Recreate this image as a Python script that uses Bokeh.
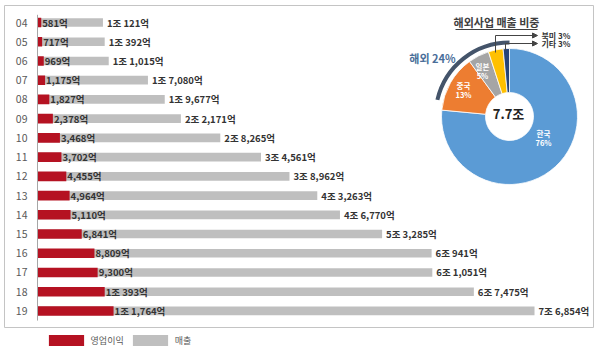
import math
from bokeh.plotting import figure
from bokeh.models import Range1d, Legend, LegendItem, Arrow, NormalHead, ColumnDataSource
from bokeh.core.properties import value
from bokeh.embed import file_html
from bokeh.resources import INLINE

W, H = 600, 354
FONT = "Noto Sans CJK KR"

# ---------------- data ----------------
years = ["04", "05", "06", "07", "08", "09", "10", "11", "12", "13", "14", "15", "16", "17", "18", "19"]
op_profit = [581, 717, 969, 1175, 1827, 2378, 3468, 3702, 4455, 4964, 5110, 6841, 8809, 9300, 10393, 11764]  # 억원
revenue = [10121, 10392, 11015, 17080, 19677, 22171, 28265, 34561, 38962, 43263, 46770, 53285, 60941, 61051, 67475, 76854]  # 억원
legend_labels = ["영업이익", "매출"]

pie_title = "해외사업 매출 비중"
pie_regions = ["한국", "중국", "일본", "북미", "기타"]
pie_pct_labels = ["76%", "13%", "5%", "3%", "3%"]
pie_shares = [76.5, 13.5, 5.0, 3.5, 1.5]
pie_colors = ["#5B9BD5", "#ED7D31", "#A5A5A5", "#FFC000", "#264478"]
pie_total = "7.7조"
overseas_label = "해외 24%"


def fmt(v):
    jo, eok = divmod(v, 10000)
    return f"{jo}조 {eok:,}억" if jo else f"{eok:,}억"


# ---------------- scales ----------------
X0_PX, PX_PER = 37, 0.006467
Y0_PX, STEP = 22, 19.23
x_range = Range1d(-X0_PX / PX_PER, (W - X0_PX) / PX_PER)
y_range = Range1d((H - Y0_PX) / STEP, -Y0_PX / STEP)

p = figure(width=W, height=H, x_range=x_range, y_range=y_range,
           output_backend="svg", toolbar_location=None,
           x_axis_location=None, y_axis_location=None, min_border=0,
           outline_line_color=None, background_fill_color="white")
p.grid.visible = False
p.extra_x_ranges = {"px": Range1d(0, W)}
p.extra_y_ranges = {"px": Range1d(0, H)}

# chart border
p.quad(left=4, right=593, top=H - 5, bottom=H - 327, x_range_name="px", y_range_name="px",
       fill_color=None, line_color="#C4C4C4", line_width=1)

idx = list(range(len(years)))
src = ColumnDataSource(dict(y=idx, year=years, op=op_profit, rev=revenue,
                            op_lbl=[fmt(v) for v in op_profit],
                            rev_lbl=[fmt(v) for v in revenue]))

gray = p.hbar(y="y", left=0, right="rev", height=0.45, source=src,
              fill_color="#BFBFBF", line_color=None)
red = p.hbar(y="y", left=0, right="op", height=0.5, source=src,
             fill_color="#B51222", line_color=None)

label_kw = dict(text_font=value(FONT), text_font_size="9.5px", text_font_style="bold",
                text_color="#333333", text_baseline="middle")
p.text(x="op", y="y", text="op_lbl", x_offset=1, source=src, **label_kw)
p.text(x="rev", y="y", text="rev_lbl", x_offset=4, source=src, **label_kw)

# y axis (line + tick labels)
p.segment(x0=0, y0=-0.4, x1=0, y1=len(years) - 0.5, line_color="#A6A6A6", line_width=1)
p.text(x=0, y="y", text="year", x_offset=-10, source=src, text_align="right",
       text_baseline="middle", text_font=value(FONT), text_font_size="10.5px",
       text_color="#595959")

# legend
legend = Legend(items=[LegendItem(label=legend_labels[0], renderers=[red]),
                       LegendItem(label=legend_labels[1], renderers=[gray])],
                orientation="horizontal", location=(43.6, 6.6),
                glyph_width=44, glyph_height=14, label_height=14,
                label_standoff=3, spacing=4, padding=0, margin=0,
                border_line_color=None, background_fill_alpha=0,
                label_text_font=FONT, label_text_font_size="9px",
                label_text_color="#595959", label_text_baseline="middle")
p.add_layout(legend)

# ---------------- donut ----------------
CX, CY = 509, H - 116
R_IN, R_OUT = 24, 68
starts, ends = [], []
acc = 0.0
tot = sum(pie_shares)
for s in pie_shares:
    starts.append(math.pi / 2 - 2 * math.pi * acc / tot)
    acc += s
    ends.append(math.pi / 2 - 2 * math.pi * acc / tot)
p.annular_wedge(x=[CX] * 5, y=[CY] * 5, inner_radius=R_IN, outer_radius=R_OUT,
                inner_radius_units="screen", outer_radius_units="screen",
                start_angle=starts, end_angle=ends, direction="clock",
                fill_color=pie_colors, line_color="white", line_width=0.8,
                x_range_name="px", y_range_name="px")

# overseas arc
a0 = math.pi / 2 - 2 * math.pi * 283 / 360
a1 = math.pi / 2 - 2 * math.pi * 360 / 360
p.arc(x=CX, y=CY, radius=74, radius_units="screen", start_angle=a0, end_angle=a1,
      direction="clock", line_color="#44546A", line_width=4, x_range_name="px", y_range_name="px")
p.text(x=[432], y=[H - 57], text=[overseas_label], text_align="center", text_baseline="middle",
       text_font=value(FONT), text_font_size="11px", text_font_style="bold",
       text_color="#4A6E99", x_range_name="px", y_range_name="px")

# slice labels
lbl_x = [543, 463, 482]
lbl_y = [133, 85, 66]
p.text(x=lbl_x, y=[H - v for v in lbl_y], text=pie_regions[:3], text_align="center",
       text_baseline="middle", text_font=value(FONT), text_font_size="7.5px",
       text_font_style="bold", text_color="white", x_range_name="px", y_range_name="px")
p.text(x=lbl_x, y=[H - v - 9 for v in lbl_y], text=pie_pct_labels[:3], text_align="center",
       text_baseline="middle", text_font=value(FONT), text_font_size="7.5px",
       text_font_style="bold", text_color="white", x_range_name="px", y_range_name="px")

p.text(x=[CX - 1], y=[H - 113], text=[pie_total], text_align="center", text_baseline="middle",
       text_font=value(FONT), text_font_size="13px", text_font_style="bold",
       text_color="#222222", x_range_name="px", y_range_name="px")

# title
p.text(x=[496], y=[H - 21], text=[pie_title], text_align="center", text_baseline="middle",
       text_font=value(FONT), text_font_size="11px", text_font_style="bold",
       text_color="#404040", x_range_name="px", y_range_name="px")
p.segment(x0=455, y0=H - 29, x1=537, y1=H - 29, line_color="#404040", line_width=1,
          x_range_name="px", y_range_name="px")

# callouts
p.multi_line(xs=[[495, 495], [505, 505]], ys=[[H - 52, H - 35], [H - 50, H - 43]],
             line_color="#444444", line_width=1, x_range_name="px", y_range_name="px")
for yy in (35, 43):
    x_start = 495 if yy == 35 else 505
    p.add_layout(Arrow(x_start=x_start, y_start=H - yy, x_end=537, y_end=H - yy,
                       end=NormalHead(size=5, fill_color="#444444", line_color="#444444"),
                       line_color="#444444", line_width=1,
                       x_range_name="px", y_range_name="px"))
p.text(x=[541, 541], y=[H - 35, H - 43],
       text=[f"{pie_regions[3]} {pie_pct_labels[3]}", f"{pie_regions[4]} {pie_pct_labels[4]}"],
       text_baseline="middle", text_font=value(FONT), text_font_size="8px",
       text_font_style="bold", text_color="#333333", x_range_name="px", y_range_name="px")

open("out.html", "w").write(file_html(p, INLINE))
